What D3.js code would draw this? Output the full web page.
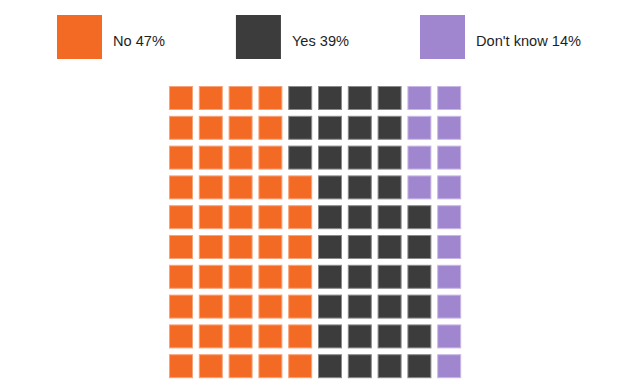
<!DOCTYPE html>
<html>
<head>
<meta charset="utf-8">
<script src="https://cdn.jsdelivr.net/npm/d3@7"></script>
<style>
  html, body { margin: 0; padding: 0; background: #fff; }
  svg { display: block; }
</style>
</head>
<body>
<svg id="chart" width="630" height="389"></svg>
<script>
const categories = ["No", "Yes", "Don't know"];
const values = [47, 39, 14];
const colors = ["#F36A24", "#3C3C3C", "#A086CF"];
const strokeColors = ["#F7A47A", "#8A8A8A", "#C9B8E6"];

const W = 630, H = 389;
const svg = d3.select("#chart");

// legend
const legend = svg.append("g");
let lx = 57;
categories.forEach((c, i) => {
  const g = legend.append("g");
  g.append("rect")
    .attr("x", lx).attr("y", 15)
    .attr("width", 45).attr("height", 44)
    .attr("fill", colors[i]);
  const t = g.append("text")
    .attr("x", lx + 56).attr("y", 46)
    .attr("font-family", "Liberation Sans, Arial, sans-serif")
    .attr("font-size", 14.6)
    .attr("fill", "#1e1e1e")
    .text(c + " " + values[i] + "%");
  const tw = t.node().getComputedTextLength();
  lx = lx + 56 + tw + 71;
});

// waffle cells
const cells = [];
values.forEach((v, ci) => { for (let k = 0; k < v; k++) cells.push(ci); });

const idx = d3.range(10);
const x = d3.scaleBand().domain(idx).range([169, 461.2]).paddingInner(0.195).paddingOuter(0);
const y = d3.scaleBand().domain(idx).range([86, 378.2]).paddingInner(0.195).paddingOuter(0);

svg.append("g").selectAll("rect")
  .data(cells)
  .join("rect")
  .attr("x", (d, i) => x(Math.floor(i / 10)) + 0.5)
  .attr("y", (d, i) => y(9 - (i % 10)) + 0.5)
  .attr("width", x.bandwidth() - 1)
  .attr("height", y.bandwidth() - 1)
  .attr("fill", d => colors[d])
  .attr("stroke", d => strokeColors[d])
  .attr("stroke-width", 1);
</script>
</body>
</html>
